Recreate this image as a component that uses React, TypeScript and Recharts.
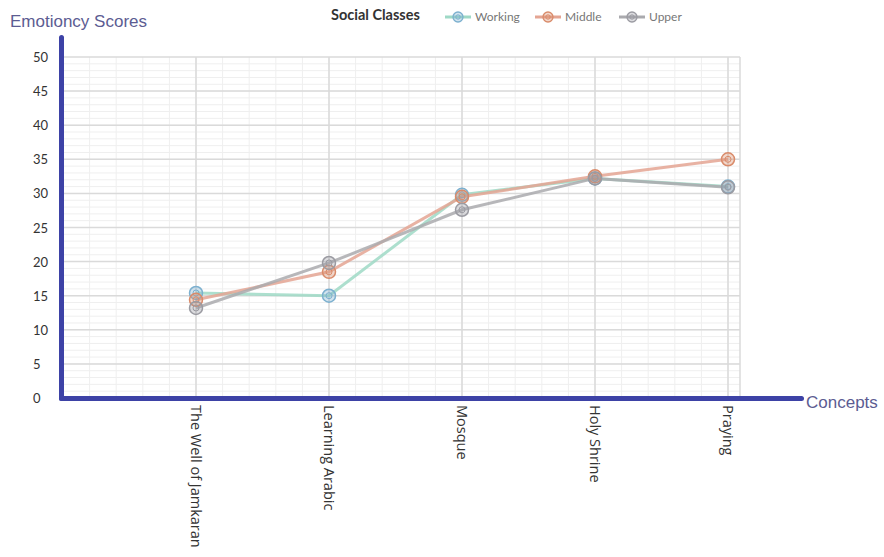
import React from "react";
import { LineChart, Line, XAxis, YAxis, CartesianGrid } from "recharts";

const concepts = ["The Well of Jamkaran", "Learning Arabic", "Mosque", "Holy Shrine", "Praying"];
const working = [15.4, 15.0, 29.8, 32.2, 31.0];
const middle = [14.4, 18.5, 29.5, 32.5, 35.0];
const upper = [13.2, 19.8, 27.6, 32.2, 30.9];
const yTicks = [0, 5, 10, 15, 20, 25, 30, 35, 40, 45, 50];

const data = concepts.map((name, i) => ({
  name,
  working: working[i],
  middle: middle[i],
  upper: upper[i],
}));

const series = [
  { key: "working", label: "Working", line: "#9fd9c6", marker: "#7cb0cf" },
  { key: "middle", label: "Middle", line: "#e4a593", marker: "#d98b6a" },
  { key: "upper", label: "Upper", line: "#aaaaae", marker: "#9b9ba2" },
];
const legendLeft = [445, 535, 619];

const FONT = "Lato, 'Open Sans', sans-serif";
const AXIS_BLUE = "#3d42a6";
const TITLE = "#5c5c92";

function makeDot(color: string) {
  return (props: any) => {
    const { cx, cy, index } = props;
    if (cx == null || cy == null) return <g key={index} />;
    return (
      <g key={index}>
        <circle cx={cx} cy={cy} r={6.5} fill={color} fillOpacity={0.35} stroke={color} strokeWidth={1.5} />
        <circle cx={cx} cy={cy} r={3} fill="none" stroke={color} strokeWidth={1} />
      </g>
    );
  };
}

const YTick = (props: any) => {
  const { x, y, payload } = props;
  return (
    <text x={x - 30} y={y} textAnchor="start" dominantBaseline="central" fontSize={13} fill="#333" fontFamily={FONT}>
      {payload.value}
    </text>
  );
};

const XTick = (props: any) => {
  const { x, y, payload } = props;
  return (
    <text
      x={0}
      y={0}
      transform={`translate(${x},${y}) rotate(90)`}
      textAnchor="start"
      dominantBaseline="central"
      fontSize={14.5}
      fill="#333"
      fontFamily="'Open Sans', sans-serif"
    >
      {payload.value}
    </text>
  );
};

function minorVertical({ offset }: any) {
  const pts: number[] = [];
  const step = 133 / 5;
  const first = offset.left + 133;
  for (let x = first; x > offset.left; x -= step) pts.push(x);
  for (let x = first + step; x < offset.left + offset.width; x += step) pts.push(x);
  return pts;
}

function minorHorizontal({ offset }: any) {
  const pts: number[] = [];
  const step = offset.height / 50;
  for (let i = 1; i < 50; i++) pts.push(offset.top + i * step);
  return pts;
}

export default function App() {
  return (
    <div style={{ position: "fixed", left: 0, top: 0, width: 884, height: 557, background: "#fff", fontFamily: FONT }}>
      <LineChart width={884} height={557} data={data} margin={{ top: 57, right: 144, bottom: 9, left: 33 }}>
        <CartesianGrid
          stroke="#efefef"
          strokeWidth={1}
          horizontalCoordinatesGenerator={minorHorizontal}
          verticalCoordinatesGenerator={minorVertical}
        />
        <CartesianGrid stroke="#dadada" strokeWidth={1.5} />
        <XAxis
          dataKey="name"
          height={150}
          padding={{ left: 133, right: 12 }}
          axisLine={false}
          tickLine={false}
          tickSize={0}
          tickMargin={7}
          interval={0}
          tick={<XTick />}
        />
        <YAxis
          domain={[0, 50]}
          ticks={yTicks}
          width={30}
          axisLine={false}
          tickLine={false}
          tickSize={0}
          tickMargin={0}
          tick={<YTick />}
        />
        {series.map((s) => (
          <Line
            key={s.key}
            type="linear"
            dataKey={s.key}
            stroke={s.line}
            strokeOpacity={0.85}
            strokeWidth={3}
            dot={makeDot(s.marker)}
            activeDot={false}
            isAnimationActive={false}
          />
        ))}
      </LineChart>

      <div style={{ position: "absolute", left: 59, top: 35, width: 5, height: 366, background: AXIS_BLUE, borderRadius: 3 }} />
      <div style={{ position: "absolute", left: 59, top: 396, width: 745, height: 5, background: AXIS_BLUE, borderRadius: 3 }} />

      <div style={{ position: "absolute", left: 10, top: 12, fontSize: 17, color: TITLE, fontFamily: "'Liberation Sans', Arial, sans-serif", whiteSpace: "nowrap" }}>
        Emotioncy Scores
      </div>
      <div style={{ position: "absolute", left: 806, top: 393, fontSize: 17, color: TITLE, fontFamily: "'Liberation Sans', Arial, sans-serif", whiteSpace: "nowrap" }}>
        Concepts
      </div>

      <div style={{ position: "absolute", left: 331, top: 6, fontSize: 14.5, fontWeight: 700, color: "#333", whiteSpace: "nowrap" }}>
        Social Classes
      </div>
      {series.map((s, i) => (
        <div
          key={s.key}
          style={{ position: "absolute", left: legendLeft[i], top: 9, display: "flex", alignItems: "center", whiteSpace: "nowrap" }}
        >
          <svg width={26} height={14}>
            <line x1={0} y1={7} x2={26} y2={7} stroke={s.line} strokeWidth={3} />
            <circle cx={13} cy={7} r={5} fill={s.marker} fillOpacity={0.35} stroke={s.marker} strokeWidth={1.3} />
            <circle cx={13} cy={7} r={2.2} fill="none" stroke={s.marker} strokeWidth={1} />
          </svg>
          <span style={{ fontSize: 12, color: "#777", marginLeft: 4 }}>{s.label}</span>
        </div>
      ))}
    </div>
  );
}
